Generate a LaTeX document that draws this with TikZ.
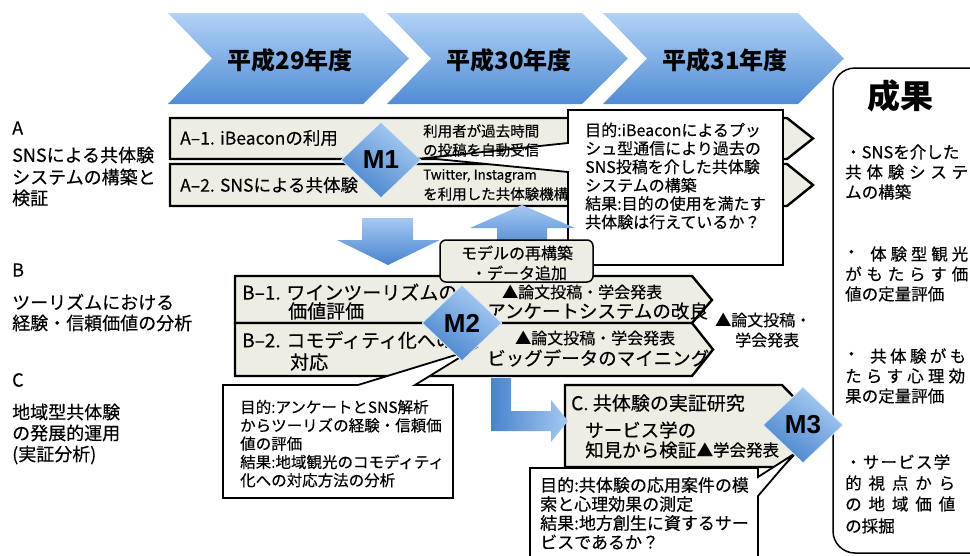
\documentclass[tikz,border=0pt]{standalone}
\usepackage{fontspec}
\setmainfont{Noto Sans CJK JP}[UprightFeatures={FakeBold=0.35}]
\newfontfamily\latf{Liberation Sans}
\usetikzlibrary{shapes.geometric}
\definecolor{chevlt}{RGB}{178,210,246}
\definecolor{chevdk}{RGB}{80,140,212}
\definecolor{diamlt}{RGB}{170,205,243}
\definecolor{diamdk}{RGB}{72,132,204}
\definecolor{arrlt}{RGB}{165,200,242}
\definecolor{arrdk}{RGB}{72,132,206}
\definecolor{beige}{RGB}{238,237,228}
\newcommand{\fsz}[1]{\fontsize{#1pt}{#1pt}\selectfont}
\begin{document}
\begin{tikzpicture}[x=1pt,y=-1pt,
  lbl/.style={inner sep=0pt, anchor=west},
  lblc/.style={inner sep=0pt},
  barshape/.style={draw=black, line width=2.4pt, fill=beige, line join=miter},
  callbox/.style={draw=black, line width=1.8pt, fill=white, line join=miter},
  diamondm/.style={shape=diamond, minimum width=80pt, minimum height=76pt, inner sep=0pt,
     draw=diamlt!40!white, line width=0.8pt, top color=diamlt, bottom color=diamdk,
     shading angle=-35, font=\latf\bfseries\fsz{26}},
  chevshape/.style={top color=chevlt, bottom color=chevdk},
  blockarrow/.style={top color=arrlt, bottom color=arrdk},
]
\useasboundingbox (0,0) rectangle (970,555);
\clip (0,0) rectangle (970,555);

% ---------- year chevrons ----------
\foreach \L/\t [count=\i] in {168/平成29年度,387/平成30年度,603/平成31年度}{
  \shade[chevshape] (\L,13) -- (\L+195,13) -- (\L+241,58.5) -- (\L+195,104) -- (\L,104) -- (\L+44,58.5) -- cycle;
  \node[lblc, font=\bfseries\fsz{24}] (yr\i) at (\L+122,60) {\t};
}

% ---------- results box ----------
\draw[line width=1.5pt, fill=white, rounded corners=22pt] (833,68) rectangle (1010,553);
\node[lblc, font=\bfseries\fsz{33}] (res) at (900,96) {成果};
\begin{scope}[every node/.style={lbl, font=\fsz{16.5}}]
\node (r1) at (845,152) {・SNSを介した};
\node (r2) at (845,172) {\makebox[123pt][s]{共\hfill 体\hfill 験\hfill シ\hfill ス\hfill テ}};
\node (r3) at (845,192) {ムの構築};
\node (r4d) at (843,254) {・};
\node (r4) at (870,254) {\makebox[98pt][s]{体\hfill 験\hfill 型\hfill 観\hfill 光}};
\node (r5) at (845,274) {\makebox[123pt][s]{が\hfill も\hfill た\hfill ら\hfill す\hfill 価}};
\node (r6) at (845,294) {値の定量評価};
\node (r7d) at (843,356) {・};
\node (r7) at (870,356) {\makebox[96pt][s]{共\hfill 体\hfill 験\hfill が\hfill も}};
\node (r8) at (845,376) {\makebox[120pt][s]{た\hfill ら\hfill す\hfill 心\hfill 理\hfill 効}};
\node (r9) at (845,396) {果の定量評価};
\node (r10) at (845,462) {\makebox[105pt][s]{・\hfill サ\hfill ー\hfill ビ\hfill ス\hfill 学}};
\node (r11) at (845,483) {\makebox[110pt][s]{的\hfill 視\hfill 点\hfill か\hfill ら}};
\node (r12) at (845,504) {\makebox[110pt][s]{の\hfill 地\hfill 域\hfill 価\hfill 値}};
\node (r13) at (845,526) {の採掘};
\end{scope}

% ---------- left labels ----------
\foreach \n/\y/\s in {la0/128/A, la1/155/SNSによる共体験, la2/177/システムの構築と, la3/198/検証,
   lb0/270/B, lb1/302/ツーリズムにおける, lb2/323/経験・信頼価値の分析,
   lc0/380/C, lc1/412/地域型共体験, lc2/433/の発展的運用, lc3/455/(実証分析)}
  \node[lbl, font=\fsz{18}] (\n) at (12,\y) {\s};

% ---------- pointer tips ----------
\coordinate (m1c) at (381,160);
\coordinate (m2c) at (462,323);
\coordinate (m3c) at (803,425);
\coordinate (p1) at (426,158);
\coordinate (p2) at (472,350);
\coordinate (p3) at (794,454);

% ---------- row A ----------
\draw[barshape] (170,118) -- (787,118) -- (813,138.5) -- (787,159) -- (170,159) -- cycle;
\draw[barshape] (170,164) -- (787,164) -- (813,185) -- (787,206) -- (170,206) -- cycle;
\node[lbl, font=\fsz{17.5}] (a1) at (180,138) {A–1. iBeaconの利用};
\node[lbl, font=\fsz{17.5}] (a2) at (180,185) {A–2. SNSによる共体験};
\node[diamondm] (m1) at (m1c) {M1};
\draw[callbox] (568,110) -- (783,110) -- (783,265) -- (568,265) -- (568,172) -- (p1) -- (568,143) -- cycle;
\node[lbl, font=\fsz{14.5}] (am1) at (423,131) {利用者が過去時間};
\node[lbl, font=\fsz{14.5}] (am2) at (423,150) {の投稿を自動受信};
\node[lbl, font=\fsz{13.5}] (am3) at (423,176) {Twitter, Instagram};
\node[lbl, font=\fsz{14.5}] (am4) at (423,194) {を利用した共体験機構};
\foreach \s [count=\i] in {目的:iBeaconによるプッ, シュ型通信により過去の, SNS投稿を介した共体験, システムの構築, 結果:目的の使用を満たす, 共体験は行えているか？}
  \node[lbl, font=\fsz{16}] (ca\i) at (585,{130+(\i-1)*18.4}) {\s};

% ---------- block arrows ----------
\shade[blockarrow] (362,218) -- (413,218) -- (413,240) -- (440,240) -- (388,265) -- (337,240) -- (362,240) -- cycle;
\shade[blockarrow] (522,205) -- (575,228) -- (547,228) -- (547,252) -- (497,252) -- (497,228) -- (470,228) -- cycle;

% ---------- row B ----------
\draw[barshape] (235,276) -- (692,276) -- (712,300) -- (692,323) -- (235,323) -- cycle;
\draw[barshape] (235,323) -- (692,323) -- (713,349.5) -- (692,376) -- (235,376) -- cycle;
\node[lbl, font=\fsz{19}] (b1) at (242,292) {B–1. ワインツーリズムの};
\node[lbl, font=\fsz{19}] (b1b) at (288,311) {価値評価};
\node[lbl, font=\fsz{19}] (b2) at (242,340) {B–2. コモディティ化への};
\node[lbl, font=\fsz{19}] (b2b) at (290,362) {対応};
\node[lbl, font=\fsz{16}] (b1r) at (502,292) {▲論文投稿・学会発表};
\node[lbl, font=\fsz{18.5}] (b1s) at (487,311) {アンケートシステムの改良};
\node[lbl, font=\fsz{16}] (b2r) at (515,338) {▲論文投稿・学会発表};
\node[lbl, font=\fsz{18.5}] (b2s) at (487,358) {ビッグデータのマイニング};

\draw[line width=1.5pt, fill=beige, rounded corners=6pt] (440,240) rectangle (593,282);
\node[lblc, font=\fsz{16}] (mod1) at (517,253) {モデルの再構築};
\node[lblc, font=\fsz{16}] (mod2) at (519,273) {・データ追加};

\draw[callbox] (223,385) -- (358,385) -- (p2) -- (415,385) -- (453,385) -- (453,498) -- (223,498) -- cycle;
\foreach \s [count=\i] in {目的:アンケートとSNS解析, からツーリズの経験・信頼価, 値の評価, 結果:地域観光のコモディティ, 化への対応方法の分析}
  \node[lbl, font=\fsz{15.5}] (cb\i) at (240,{407+(\i-1)*18.3}) {\s};
\node[diamondm] (m2) at (m2c) {M2};

\node[lbl, font=\fsz{16}] (rt1) at (715,320) {▲論文投稿・};
\node[lbl, font=\fsz{16}] (rt2) at (735,340) {学会発表};

% ---------- row C ----------
\draw[barshape] (565,385) -- (782,385) -- (822,426) -- (782,467) -- (565,467) -- cycle;
\shade[left color=arrdk, right color=arrlt] (491,378) -- (511,378) -- (511,411) -- (551,411) -- (551,400) -- (568,421) -- (551,442) -- (551,431) -- (491,431) -- cycle;
\node[lbl, font=\fsz{19}] (c1) at (571,403) {C. 共体験の実証研究};
\node[lbl, font=\fsz{18.5}] (c2) at (585,430) {サービス学の};
\node[lbl, font=\fsz{18.5}] (c3) at (585,450) {知見から検証};
\node[lbl, font=\fsz{16.5}] (c4) at (c3.east) {▲学会発表};

\draw[callbox] (530,468) -- (758,468) -- (758,477) -- (p3) -- (758,496) -- (758,565) -- (530,565) -- cycle;
\foreach \s [count=\i] in {目的:共体験の応用案件の模, 索と心理効果の測定, 結果:地方創生に資するサー, ビスであるか？}
  \node[lbl, font=\fsz{17}] (cc\i) at (540,{485+(\i-1)*19}) {\s};
\node[diamondm] (m3) at (m3c) {M3};
\end{tikzpicture}
\end{document}
